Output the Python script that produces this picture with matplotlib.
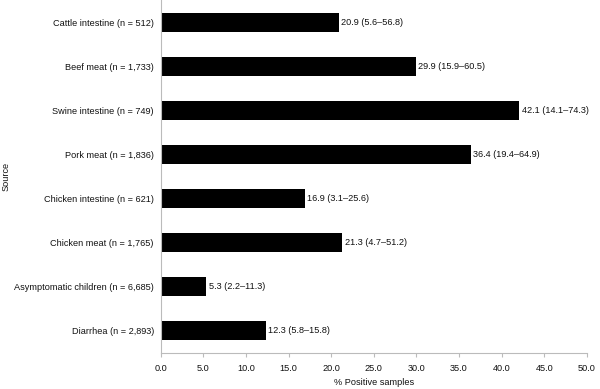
import matplotlib
matplotlib.use("Agg")
from matplotlib import pyplot as plt
import numpy as np

plt.rcParams['font.family'] = ['Liberation Sans', 'DejaVu Sans']

sources = ['Cattle intestine (n = 512)', 'Beef meat (n = 1,733)', 'Swine intestine (n = 749)',
           'Pork meat (n = 1,836)', 'Chicken intestine (n = 621)', 'Chicken meat (n = 1,765)',
           'Asymptomatic children (n = 6,685)', 'Diarrhea (n = 2,893)']
values = [20.9, 29.9, 42.1, 36.4, 16.9, 21.3, 5.3, 12.3]
ranges = ['5.6\u201356.8', '15.9\u201360.5', '14.1\u201374.3', '19.4\u201364.9',
          '3.1\u201325.6', '4.7\u201351.2', '2.2\u201311.3', '5.8\u201315.8']
xticks = [0, 5, 10, 15, 20, 25, 30, 35, 40, 45, 50]

fig = plt.figure(figsize=(6, 3.89), dpi=100)
ax = fig.add_axes([0.268, 0.093, 0.71, 0.907])

fs = 6.6
y = np.arange(len(sources))
ax.barh(y, values, height=0.43, color='black')
for yi, v, r in zip(y, values, ranges):
    ax.text(v + 0.3, yi, f'{v} ({r})', va='center', ha='left', fontsize=fs, color='#111111')

ax.set_ylim(len(sources) - 0.5, -0.5)
ax.set_xlim(0, 50)
ax.set_yticks(y)
ax.set_yticklabels(sources, fontsize=fs, color='#111111')
ax.set_xticks(xticks)
ax.set_xticklabels([f'{t:.1f}' for t in xticks], fontsize=fs, color='#111111')
ax.tick_params(axis='y', length=0, pad=5)
ax.tick_params(axis='x', length=3, color='#bbbbbb', pad=5)
for s in ['top', 'right']:
    ax.spines[s].set_visible(False)
for s in ['left', 'bottom']:
    ax.spines[s].set_color('#bbbbbb')
    ax.spines[s].set_linewidth(0.8)
ax.set_xlabel('% Positive samples', fontsize=fs, color='#111111', labelpad=4)
ax.set_ylabel('Source', fontsize=fs, color='#111111')
ax.yaxis.set_label_coords(-0.352, 0.5)

fig.savefig('out.png', dpi=100)
